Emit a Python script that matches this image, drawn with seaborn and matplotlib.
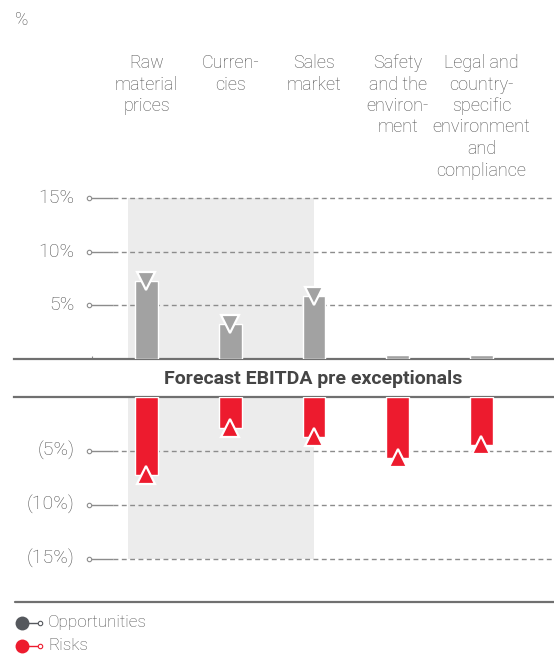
"""Opportunity / risk profile chart (forecast EBITDA pre exceptionals)"""

import matplotlib
matplotlib.use("Agg")
import matplotlib.pyplot as plt
import matplotlib.transforms as mtransforms
import seaborn as sns
import pandas as pd

# Data
categories = [
    "Raw\nmaterial\nprices",
    "Curren-\ncies",
    "Sales\nmarket",
    "Safety\nand the\nenviron-\nment",
    "Legal and\ncountry-\nspecific\nenvironment\nand\ncompliance",
]
opportunities = [7.3, 3.3, 5.9, 0.4, 0.4]
risks = [7.2, 2.9, 3.7, 5.7, 4.5]
top_ticks = [5, 10, 15]
top_tick_labels = ["5%", "10%", "15%"]
bottom_ticks = [-5, -10, -15]
bottom_tick_labels = ["(5%)", "(10%)", "(15%)"]
band_title = "Forecast EBITDA pre exceptionals"
legend_labels = ["Opportunities", "Risks"]

# Style
sns.set_style("white")
plt.rcParams["font.family"] = ["Roboto", "DejaVu Sans"]

GREY_BAR = "#a2a2a2"
RED = "#ed1b2e"
SHADE = "#ececec"
LINE = "#707070"
GRID = "#8c8c8c"
TEXT = "#505050"
DARK = "#454545"
LEGEND_GREY = "#55585d"

W, H = 554, 658
fig = plt.figure(figsize=(W / 100, H / 100), dpi=100)


def px_axes(x0, y_top, x1, y_bot):
    """Add axes from pixel coordinates (y measured from top)"""
    return fig.add_axes([x0 / W, 1 - y_bot / H, (x1 - x0) / W, (y_bot - y_top) / H])


ax_top = px_axes(14, 198, 554, 359)
ax_bot = px_axes(14, 397, 554, 558.5)

# x data limits so category centers fall on the reference positions
x_left, x_right = -1.582, 4.866
shade_x = (-0.22, 2.0)

df_top = pd.DataFrame({"category": categories, "value": opportunities})
df_bot = pd.DataFrame({"category": categories, "value": [-r for r in risks]})

sns.barplot(data=df_top, x="category", y="value", ax=ax_top, color=GREY_BAR,
            width=0.27, saturation=1, zorder=3)
sns.barplot(data=df_bot, x="category", y="value", ax=ax_bot, color=RED,
            width=0.27, saturation=1, zorder=3)

for ax, lim, ticks, labels in [
    (ax_top, (0, 15), top_ticks, top_tick_labels),
    (ax_bot, (-15, 0), bottom_ticks, bottom_tick_labels),
]:
    ax.set_xlim(x_left, x_right)
    ax.set_ylim(*lim)
    ax.set_xlabel("")
    ax.set_ylabel("")
    ax.set_xticks([])
    ax.set_yticks([])
    ax.axvspan(*shade_x, color=SHADE, zorder=0, lw=0)
    for sp in ax.spines.values():
        sp.set_visible(False)
    # gridlines with the little connector at the left
    for v, lab in zip(ticks, labels):
        ax.plot([-0.69, -0.405], [v, v], color=GRID, lw=1.0, zorder=1,
                solid_capstyle="butt", clip_on=False)
        ax.plot([-0.405, x_right], [v, v], color=GRID, lw=1.0, zorder=1,
                linestyle=(0, (3.5, 2.5)), clip_on=False)
        ax.plot(-0.69, v, "o", ms=3.2, mfc="white", mec=GRID, mew=0.8,
                zorder=2, clip_on=False)
        ax.text(-0.86, v, lab, ha="right", va="center", fontsize=14,
                color=TEXT, fontweight="light")

ax_top.spines["bottom"].set_visible(True)
ax_top.spines["bottom"].set_color(LINE)
ax_top.spines["bottom"].set_linewidth(1.6)
ax_bot.spines["top"].set_visible(True)
ax_bot.spines["top"].set_color(LINE)
ax_bot.spines["top"].set_linewidth(1.6)
ax_top.vlines(-0.65, 0, 0.3, color=GRID, lw=0.8)

# triangle markers at the bar ends
xs = list(range(len(categories)))
opp_x = [x for x, v in zip(xs, opportunities) if v >= 1]
opp_y = [v for v in opportunities if v >= 1]
ax_top.plot(opp_x, opp_y, linestyle="none", marker="v", ms=13, mfc=GREY_BAR,
            mec="white", mew=1.6, zorder=4, clip_on=False)
ax_bot.plot(xs, [-r for r in risks], linestyle="none", marker="^", ms=13,
            mfc=RED, mec="white", mew=1.6, zorder=4, clip_on=False)

# category headers
trans = mtransforms.blended_transform_factory(ax_top.transData, fig.transFigure)
for x, cat in zip(xs, categories):
    ax_top.text(x, 1 - 54 / H, cat, transform=trans, ha="center", va="top",
                multialignment="center", fontsize=13, color=TEXT,
                fontweight="light", linespacing=1.25)

fig.text(15 / W, 1 - 20 / H, "%", ha="left", va="center", fontsize=13,
         color=TEXT, fontweight="light")

# band title between the two halves
fig.text(313 / W, 1 - 379 / H, band_title, ha="center", va="center",
         fontsize=14, fontweight="bold", color=DARK)

# bottom rule and legend
fig.add_artist(plt.Line2D([15 / W, 1], [1 - 601.5 / H] * 2, color=LINE, lw=1.6))
for i, (lab, col) in enumerate(zip(legend_labels, [LEGEND_GREY, RED])):
    y = 1 - (623 + 23 * i) / H
    fig.add_artist(plt.Line2D([22 / W, 39 / W], [y, y], color=col, lw=1.0))
    fig.add_artist(plt.Line2D([22 / W], [y], marker="o", ms=10, color=col, mew=0))
    fig.add_artist(plt.Line2D([40 / W], [y], marker="o", ms=3.2, mfc="white",
                              mec=col, mew=0.8))
    fig.text(48 / W, y, lab, ha="left", va="center", fontsize=12.3,
             color=TEXT, fontweight="light")

plt.savefig("out.png", dpi=100)
